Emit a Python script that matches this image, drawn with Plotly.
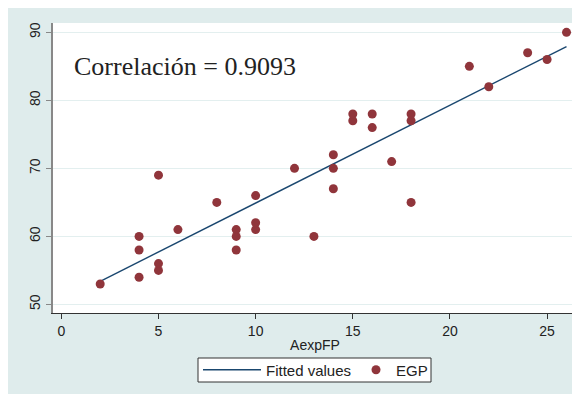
import plotly.graph_objects as go

# Data
aexpfp = [2, 4, 4, 4, 5, 5, 5, 6, 8, 9, 9, 9, 10, 10, 10, 12, 13, 14, 14, 14,
          15, 15, 16, 16, 17, 18, 18, 18, 21, 22, 24, 25, 26]
egp = [53, 54, 58, 60, 55, 56, 69, 61, 65, 58, 60, 61, 61, 62, 66, 70, 60, 67, 70, 72,
       77, 78, 76, 78, 71, 65, 77, 78, 85, 82, 87, 86, 90]

fit_x = [2, 26]
fit_y = [53.4, 87.9]

x_ticks = [0, 5, 10, 15, 20, 25]
y_ticks = [50, 60, 70, 80, 90]

BG = "#DFECEC"
GRID = "#E3EFEF"

# The page body adds an 8px offset; geometry below is in screenshot pixels
OFF = 8
L, R, T, B = 53, 577, 23, 313
W, H = R - L, B - T
FW, FH = 580, 394


def px(x):
    return (x - L) / W


def py(y):
    return (B - y) / H


fig = go.Figure()
fig.add_trace(go.Scatter(x=fit_x, y=fit_y, mode="lines", name="Fitted values",
                         line=dict(color="#1A476F", width=1.4), legend="legend"))
fig.add_trace(go.Scatter(x=aexpfp, y=egp, mode="markers", name="EGP",
                         marker=dict(color="#90353B", size=9, line=dict(width=0)),
                         legend="legend2"))

leg_common = dict(orientation="h", y=py(370), yanchor="middle", xanchor="left",
                  bgcolor="rgba(0,0,0,0)", borderwidth=0, font=dict(size=15))

fig.update_layout(
    width=FW, height=FH,
    margin=dict(l=L - OFF, r=FW - (R - OFF), t=T - OFF, b=FH - (B - OFF)),
    paper_bgcolor=BG, plot_bgcolor="white",
    font=dict(family="Liberation Sans, Arial, sans-serif", size=14, color="#222222"),
    showlegend=True,
    legend=dict(x=px(198), itemwidth=58, **leg_common),
    legend2=dict(x=px(356), itemwidth=30, **leg_common),
    xaxis=dict(range=[-0.43, 26.54], tickvals=x_ticks, showgrid=False, zeroline=False,
               showline=True, linecolor="#333333", linewidth=1, automargin=False,
               ticks="outside", ticklen=5, tickcolor="#333333",
               title=dict(text="AexpFP", standoff=2, font=dict(size=14))),
    yaxis=dict(range=[48.74, 91.37], tickvals=y_ticks, showgrid=True, gridcolor=GRID,
               gridwidth=1, zeroline=False, showline=True, linecolor="#888888",
               linewidth=2, ticks="outside", ticklen=5, tickcolor="#888888",
               tickangle=-90, automargin=False),
    shapes=[
        dict(type="rect", xref="paper", yref="paper", x0=px(198), x1=px(431),
             y0=py(382), y1=py(358), fillcolor="white",
             line=dict(width=1, color="#333333"), layer="below"),
    ],
    annotations=[
        dict(text="Correlación = 0.9093", xref="paper", yref="paper",
             x=px(185), y=py(67), xanchor="center", yanchor="middle",
             showarrow=False,
             font=dict(family="Liberation Serif, DejaVu Serif, serif", size=26, color="#222222")),
    ],
)

fig.write_html("out.html")
